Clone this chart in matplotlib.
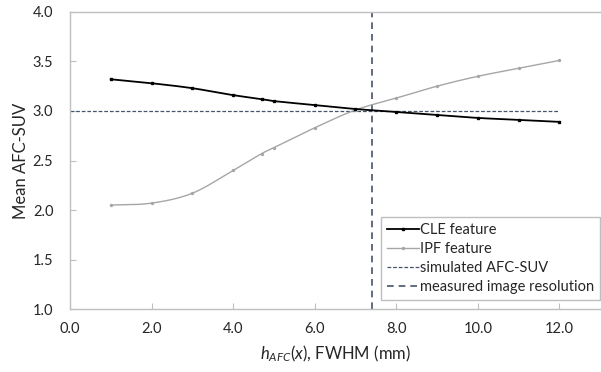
import numpy as np
import matplotlib
matplotlib.use("Agg")
import matplotlib.pyplot as plt
from matplotlib.lines import Line2D

plt.rcParams['font.family'] = ['Lato', 'DejaVu Sans']
plt.rcParams['mathtext.fontset'] = 'custom'
plt.rcParams['mathtext.rm'] = 'Lato'
plt.rcParams['mathtext.it'] = 'Lato:italic'

fwhm = [1, 2, 3, 4, 4.7, 5, 6, 7, 8, 9, 10, 11, 12]
cle = [3.32, 3.28, 3.23, 3.16, 3.12, 3.10, 3.06, 3.02, 2.99, 2.96, 2.93, 2.91, 2.89]
ipf = [2.05, 2.07, 2.17, 2.40, 2.57, 2.63, 2.83, 3.01, 3.13, 3.25, 3.35, 3.43, 3.51]
sim_x = [0, 12]
sim_y = [3.0, 3.0]
meas_x = [7.4, 7.4]
meas_y = [1.0, 4.0]
xticks = [0, 2, 4, 6, 8, 10, 12]
yticks = [1.0, 1.5, 2.0, 2.5, 3.0, 3.5, 4.0]


def smooth(x, y, n=20):
    # Catmull-Rom style smoothing for line rendering (Excel "smoothed line")
    x = np.asarray(x, float); y = np.asarray(y, float)
    xs, ys = [], []
    for i in range(len(x) - 1):
        x0, x1 = x[i], x[i + 1]
        y0, y1 = y[i], y[i + 1]
        if i > 0:
            m0 = (y[i + 1] - y[i - 1]) / (x[i + 1] - x[i - 1])
        else:
            m0 = (y1 - y0) / (x1 - x0)
        if i + 2 < len(x):
            m1 = (y[i + 2] - y[i]) / (x[i + 2] - x[i])
        else:
            m1 = (y1 - y0) / (x1 - x0)
        t = np.linspace(0, 1, n, endpoint=False)
        h = x1 - x0
        h00 = 2*t**3 - 3*t**2 + 1
        h10 = t**3 - 2*t**2 + t
        h01 = -2*t**3 + 3*t**2
        h11 = t**3 - t**2
        xs.extend(x0 + t*h)
        ys.extend(h00*y0 + h10*h*m0 + h01*y1 + h11*h*m1)
    xs.append(x[-1]); ys.append(y[-1])
    return np.array(xs), np.array(ys)


fig = plt.figure(figsize=(6.01, 3.72), dpi=100)
ax = fig.add_axes([0.1165, 0.169, 0.882, 0.799])

sx, sy = smooth(fwhm, ipf)
ax.plot(sx, sy, color='#a6a6a6', lw=1.0, zorder=3)
ax.plot(fwhm, ipf, ls='none', marker='o', ms=1.4, color='#a6a6a6', zorder=3)
sx, sy = smooth(fwhm, cle)
ax.plot(sx, sy, color='black', lw=1.3, zorder=4)
ax.plot(fwhm, cle, ls='none', marker='s', ms=1.7, color='black', zorder=4)
ax.plot(sim_x, sim_y, color='#44546a', lw=0.9, ls=(0, (3, 1.5)), zorder=2)
ax.plot(meas_x, meas_y, color='#44546a', lw=1.2, ls=(0, (4, 3)), zorder=2)

ax.set_xlim(0, 13)
ax.set_ylim(1.0, 4.0)
ax.set_xticks(xticks)
ax.set_xticklabels([f"{v:.1f}" for v in xticks])
ax.set_yticks(yticks)
ax.set_yticklabels([f"{v:.1f}" for v in yticks])
ax.tick_params(direction='in', length=4, color='#bfbfbf', labelsize=10.5,
               labelcolor='#262626', pad=9)
ax.tick_params(axis='y', pad=12)
for s in ['left', 'bottom', 'top']:
    ax.spines[s].set_color('#bfbfbf')
    ax.spines[s].set_linewidth(1.0)
ax.spines['right'].set_visible(False)

ax.set_xlabel(r"$h_{AFC}(x)$, FWHM (mm)", fontsize=12, color='#262626', labelpad=6)
ax.set_ylabel("Mean AFC-SUV", fontsize=12, color='#262626', labelpad=3)

handles = [
    Line2D([], [], color='black', lw=1.3, marker='s', ms=1.7),
    Line2D([], [], color='#a6a6a6', lw=1.0, marker='o', ms=1.4),
    Line2D([], [], color='#44546a', lw=0.9, ls=(0, (3, 1.5))),
    Line2D([], [], color='#44546a', lw=1.2, ls=(0, (4, 3))),
]
labels = ["CLE feature", "IPF feature", "simulated AFC-SUV", "measured image resolution"]
leg = ax.legend(handles, labels, loc='lower right', bbox_to_anchor=(1.0, 0.03),
                fontsize=10.5, frameon=True, fancybox=False, framealpha=1,
                edgecolor='#bfbfbf', handlelength=2.2, handletextpad=0.05,
                borderpad=0.4, labelspacing=0.35, borderaxespad=0.0)
leg.get_frame().set_linewidth(1.0)
for t in leg.get_texts():
    t.set_color('#262626')

fig.savefig("out.png", dpi=100)
